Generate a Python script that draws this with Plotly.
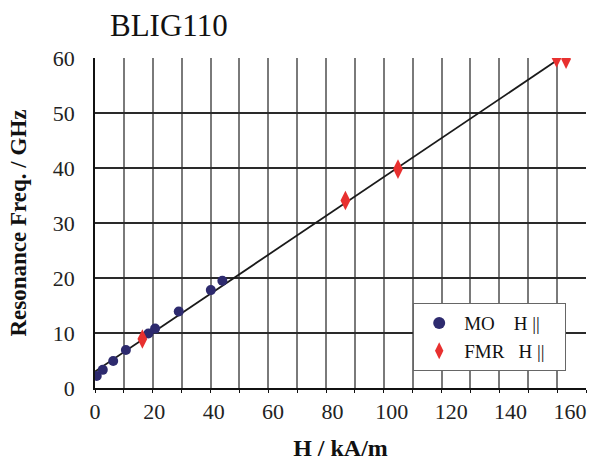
import plotly.graph_objects as go

# Data
mo_h = [0.6, 2.7, 6.3, 10.7, 18.5, 20.8, 29.0, 40.1, 44.1]
mo_f = [2.2, 3.3, 4.9, 6.9, 9.9, 10.8, 13.9, 17.8, 19.5]
fmr_h = [16.4, 86.7, 104.9, 159.8, 163.1]
fmr_f = [8.9, 34.1, 39.8, 60.0, 59.8]
fit_h = [0.0, 160.6]
fit_f = [3.0, 59.8]
x_tick_labels = ["0", "20", "40", "60", "80", "100", "120", "140", "160"]
x_tick_vals = [0, 20, 40, 60, 80, 100, 120, 140, 160]

SERIF = "Liberation Serif, Times New Roman, serif"

fig = go.Figure()
fig.add_trace(go.Scatter(x=fit_h, y=fit_f, mode="lines", line=dict(color="#1a1a1a", width=1.8),
                         showlegend=False, hoverinfo="skip"))
fig.add_trace(go.Scatter(x=mo_h, y=mo_f, mode="markers",
                         name="MO\u00a0\u00a0\u00a0\u00a0H ||\u00a0\u00a0\u00a0",
                         marker=dict(symbol="circle", size=10, color="#2d2a6e")))
fig.add_trace(go.Scatter(x=fmr_h, y=fmr_f, mode="markers",
                         name="FMR\u00a0\u00a0\u00a0H ||\u00a0\u00a0\u00a0",
                         marker=dict(symbol="diamond-tall", size=14, color="#e8302f")))
# invisible trace to carry the label axis
fig.add_trace(go.Scatter(x=[None], y=[None], xaxis="x2", showlegend=False, hoverinfo="skip"))

fig.update_layout(
    width=590, height=461,
    margin=dict(l=95, r=4, t=58, b=73),
    paper_bgcolor="white", plot_bgcolor="white",
    font=dict(family=SERIF, size=22, color="#222"),
    title=dict(text="BLIG110", x=110 / 590, xanchor="left", xref="container",
               y=1 - 25 / 461, yanchor="middle", yref="container",
               font=dict(family=SERIF, size=31, color="#111")),
    xaxis=dict(range=[0, 170], dtick=10, tick0=0, showticklabels=False,
               showgrid=True, gridcolor="#7a7a7a", gridwidth=1.5,
               showline=True, linecolor="#111", linewidth=1.5,
               ticks="outside", ticklen=3, tickcolor="#111", zeroline=False),
    xaxis2=dict(overlaying="x", side="bottom", anchor="y", range=[0, 165.4],
                tickvals=x_tick_vals, ticktext=x_tick_labels, showgrid=False,
                showline=False, ticks="", zeroline=False, ticklabelstandoff=8,
                tickfont=dict(family=SERIF, size=22, color="#222"),
                title=dict(text="<b>H / kA/m</b>", font=dict(family=SERIF, size=24, color="#111"),
                           standoff=16)),
    yaxis=dict(range=[0, 60], dtick=10, tick0=0,
               showgrid=True, gridcolor="#2a2a2a", gridwidth=1.5,
               showline=True, linecolor="#111", linewidth=1.5, zeroline=False,
               ticks="", ticklabelstandoff=14,
               tickfont=dict(family=SERIF, size=22, color="#222"),
               title=dict(text="<b>Resonance Freq. / GHz</b>",
                          font=dict(family=SERIF, size=23, color="#111"), standoff=20)),
    legend=dict(x=(413 - 95) / 491, y=(388 - 303) / 330, xanchor="left", yanchor="top",
                bgcolor="white", bordercolor="#666", borderwidth=1.2,
                font=dict(family=SERIF, size=19, color="#111"),
                itemsizing="constant", tracegroupgap=0, itemwidth=40),
    showlegend=True,
)

fig.write_html("out.html")
